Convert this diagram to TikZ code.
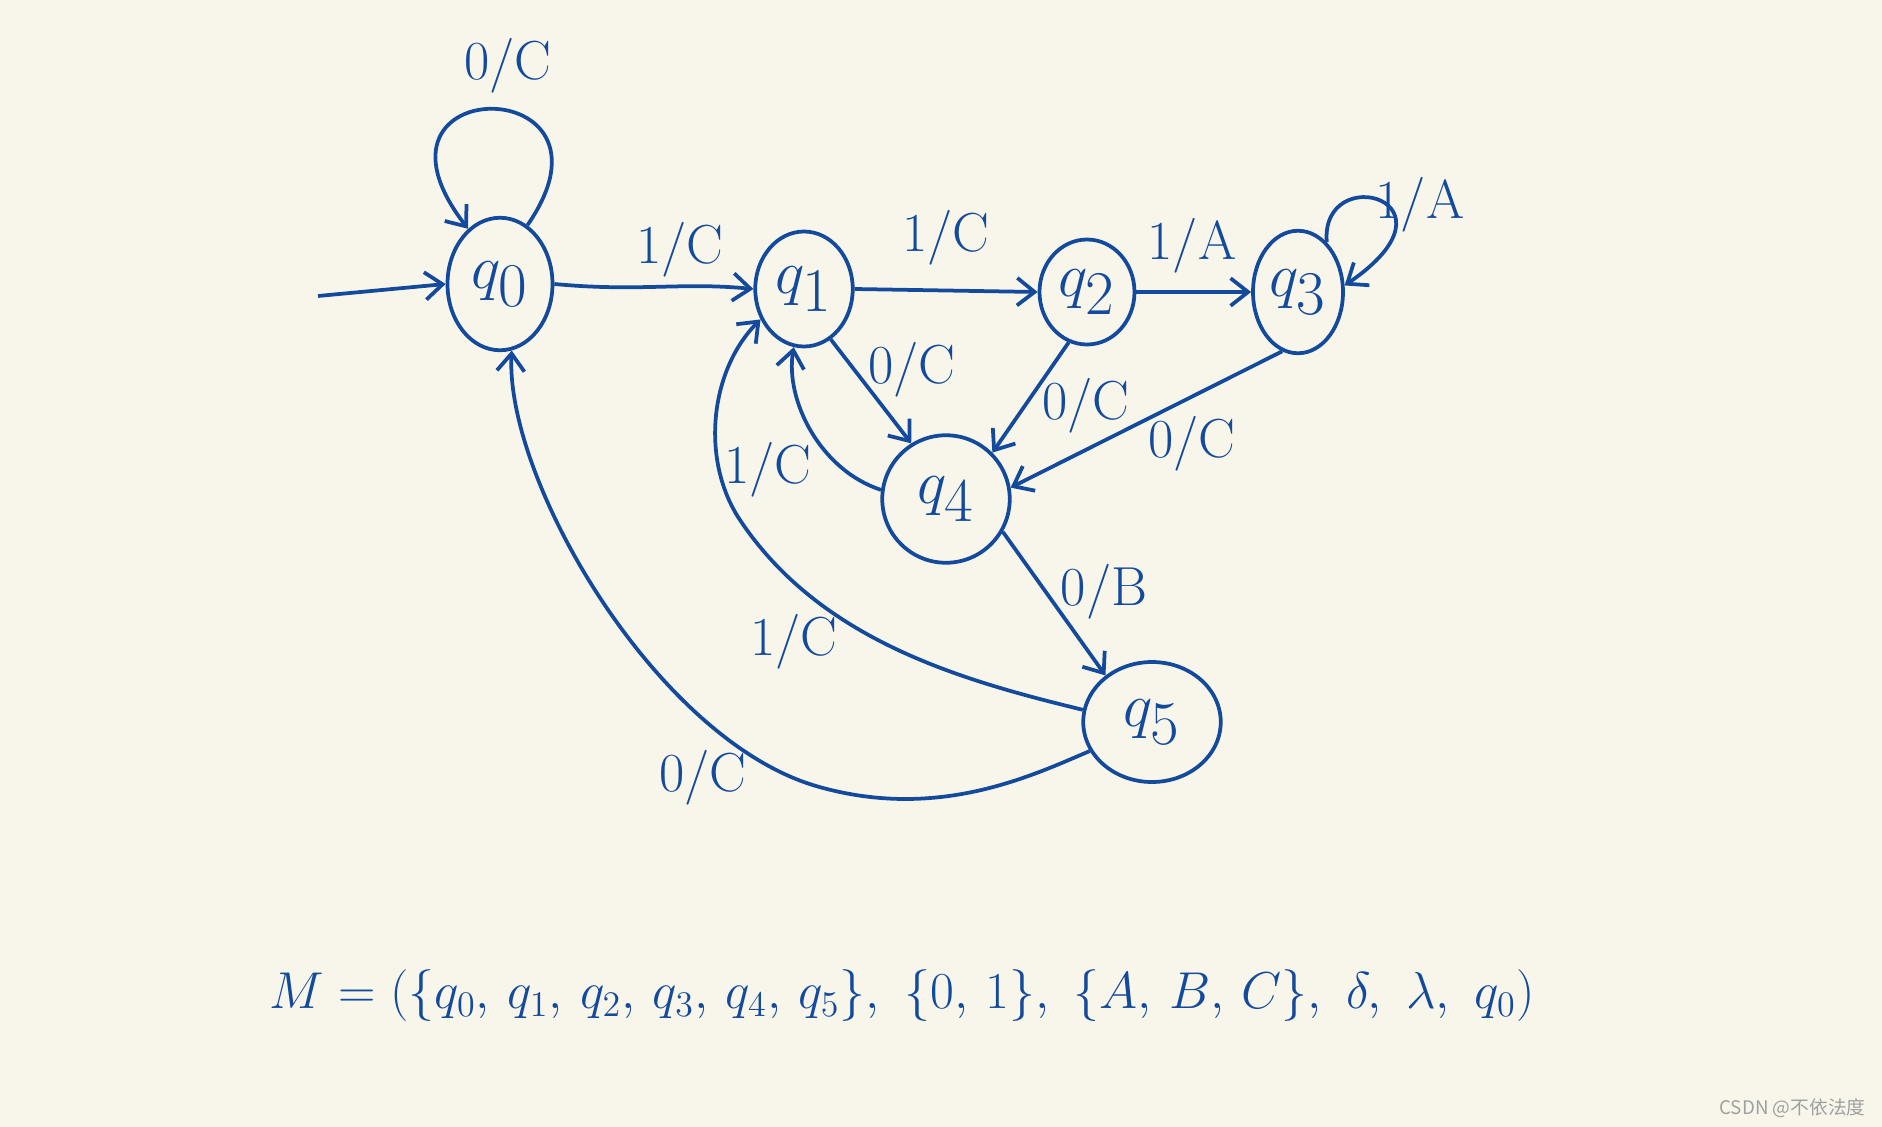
\documentclass[tikz,border=0pt]{standalone}
\usepackage{fontspec}
\newfontfamily\cjk{Noto Sans CJK SC}
\usetikzlibrary{arrows.meta,shapes.geometric}
\definecolor{bg}{RGB}{248,246,234}
\definecolor{ink}{RGB}{20,74,156}
\definecolor{wm}{RGB}{160,160,160}
\begin{document}
\begin{tikzpicture}[x=0.4pt,y=-0.4pt,
  st/.style={draw=ink,ellipse,line width=1.5pt,inner sep=0pt,text=ink,font=\fontsize{35}{40}\selectfont},
  arr/.style={draw=ink,line width=1.5pt,-{Straight Barb[length=7pt,width=11pt,line width=1.5pt]}},
  lab/.style={text=ink,font=\fontsize{22}{26}\selectfont,inner sep=0pt}]
\fill[bg] (0,0) rectangle (1882,1127);
\useasboundingbox (0,0) rectangle (1882,1127);
% states
\node[st,minimum width=42pt,minimum height=53pt] (q0) at (500,284) {$q_0$};
\node[st,minimum width=39pt,minimum height=46pt] (q1) at (804,289) {$q_1$};
\node[st,minimum width=38pt,minimum height=42pt] (q2) at (1087,292) {$q_2$};
\node[st,minimum width=36pt,minimum height=49pt] (q3) at (1298,292) {$q_3$};
\node[st,minimum width=51pt,minimum height=51pt] (q4) at (946,499) {$q_4$};
\node[st,minimum width=55pt,minimum height=48pt] (q5) at (1152,722) {$q_5$};
\coordinate (init) at (318,296);
\coordinate (m51) at (740,520);
\coordinate (m50) at (816,786);
% edges
\draw[arr] (init) -- (q0.west);
\draw[arr] (q0.65) .. controls (635,70) and (345,70) .. (q0.120);
\draw[arr] (q0.east) .. controls (640,292) and (680,282) .. (q1.west);
\draw[arr] (q1.east) -- (q2.west);
\draw[arr] (q2.east) -- (q3.west);
\draw[arr] (q3.60) .. controls (1320,160) and (1470,200) .. (q3.8);
\draw[arr] (q1.-62) -- (q4.122);
\draw[arr] (q4.172) .. controls (820,470) and (785,400) .. (q1.-100);
\draw[arr] (q2.-110) -- (q4.45);
\draw[arr] (q3.-105) -- (q4.10);
\draw[arr] (q4.-30) -- (q5.135);
\draw[arr] (q5.170) .. controls (960,680) and (820,640) .. (m51) .. controls (700,460) and (710,370) .. (q1.-145);
\draw[arr] (q5.-155) .. controls (1029,777) and (936,821) .. (m50) .. controls (656,739) and (505,480) .. (q0.-80);
% labels
\node[lab] (l00) at (508,66) {0/C};
\node[lab] (l01) at (680,250) {1/C};
\node[lab] (l12) at (946,238) {1/C};
\node[lab] (l23) at (1192,246) {1/A};
\node[lab] (l33) at (1420,205) {1/A};
\node[lab] (l14) at (912,370) {0/C};
\node[lab] (l41) at (768,470) {1/C};
\node[lab] (l24) at (1086,406) {0/C};
\node[lab] (l34) at (1192,444) {0/C};
\node[lab] (l45) at (1104,592) {0/B};
\node[lab] (l51) at (794,642) {1/C};
\node[lab] (l50) at (703,778) {0/C};
% definition
\node[text=ink,font=\fontsize{21}{25}\selectfont,inner sep=0pt] (def) at (902,996)
  {$M=(\{q_0,\,q_1,\,q_2,\,q_3,\,q_4,\,q_5\},\ \{0,\,1\},\ \{A,\,B,\,C\},\ \delta,\ \lambda,\ q_0)$};
% watermark
\node[text=wm,font=\cjk\fontsize{7.5}{9}\selectfont,inner sep=0pt,anchor=east] (wmk) at (1866,1108) {CSDN @不依法度};
\end{tikzpicture}
\end{document}
